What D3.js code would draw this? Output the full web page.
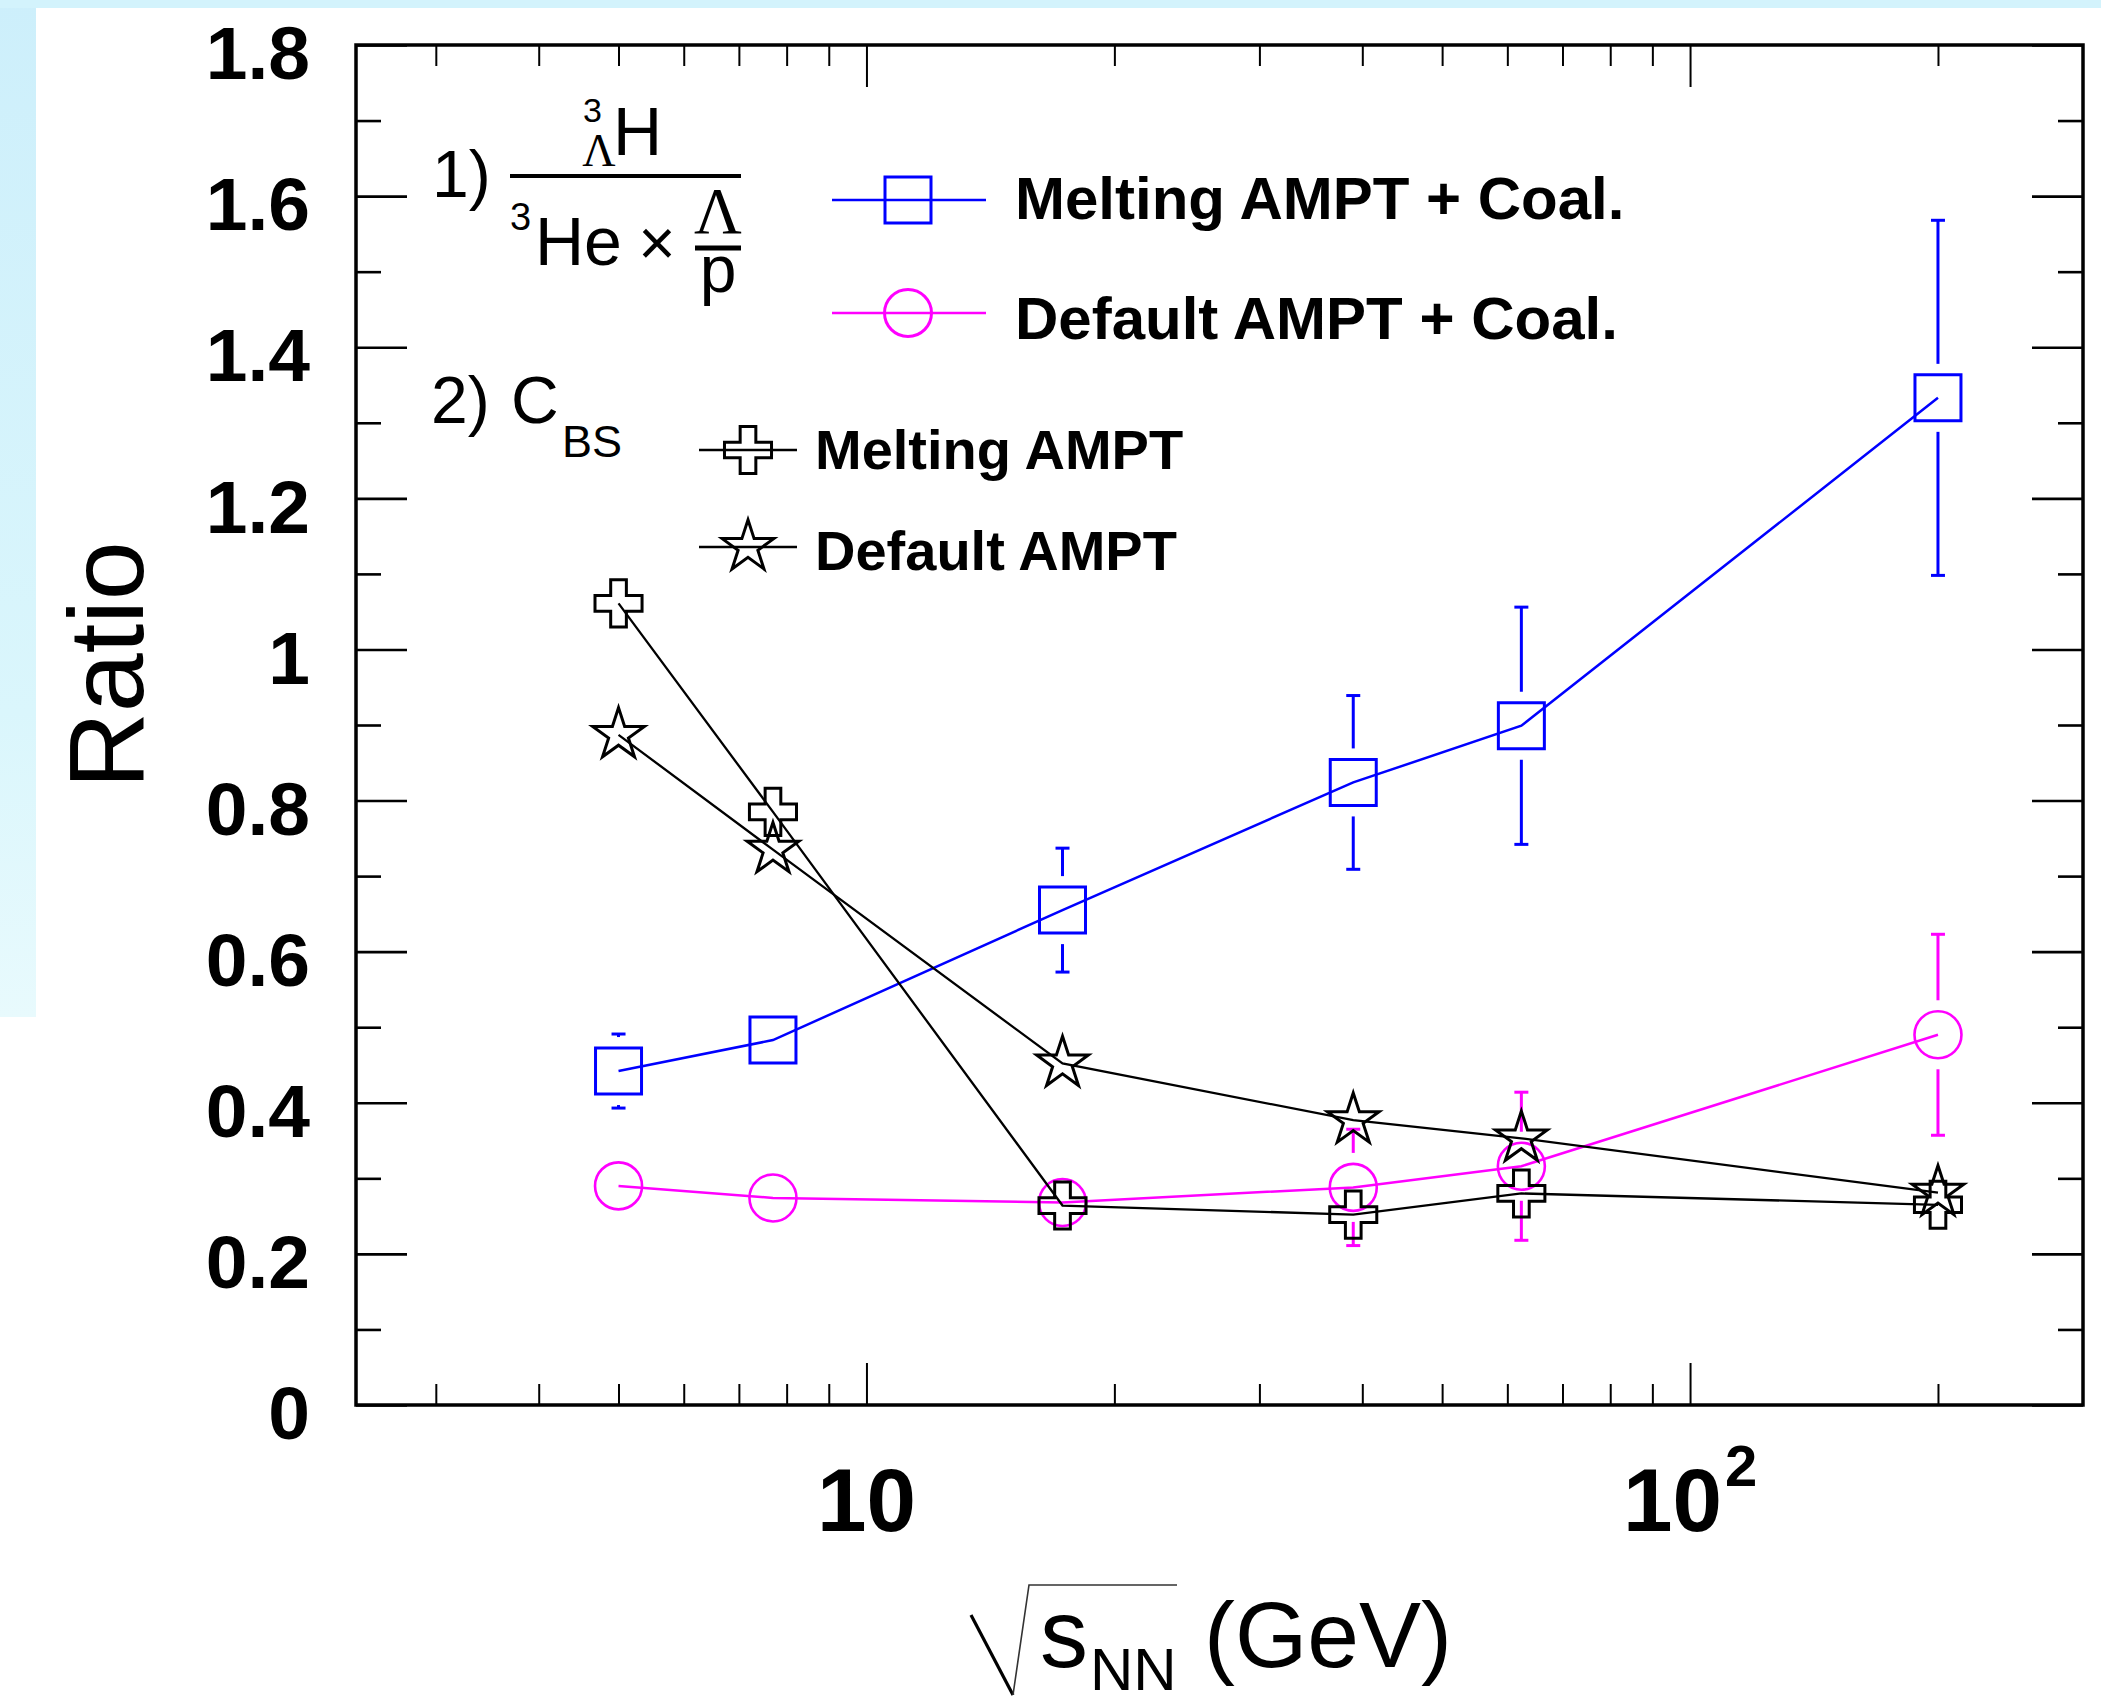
<!DOCTYPE html>
<html><head><meta charset="utf-8">
<script src="https://cdn.jsdelivr.net/npm/d3@7"></script>
<style>body{margin:0;background:#fff} svg{display:block}</style>
</head><body>
<svg id="c" width="2101" height="1697"></svg>
<script>
// ---- data ----
const energies = [5, 7.7, 17.3, 39, 62.4, 200];
const meltCoal    = [0.442, 0.483, 0.655, 0.824, 0.899, 1.333];
const meltCoalErr = [0.049, 0.030, 0.082, 0.115, 0.157, 0.235];
const defCoal     = [0.290, 0.274, 0.268, 0.288, 0.316, 0.490];
const defCoalErr  = [0.020, 0.020, 0.025, 0.077, 0.098, 0.133];
const meltCbs     = [1.061, 0.785, 0.264, 0.252, 0.280, 0.265];
const defCbs      = [0.887, 0.735, 0.452, 0.377, 0.353, 0.281];
const yMajor = [0, 0.2, 0.4, 0.6, 0.8, 1.0, 1.2, 1.4, 1.6, 1.8];
const yMajorLabels = ["0", "0.2", "0.4", "0.6", "0.8", "1", "1.2", "1.4", "1.6", "1.8"];
const yMinor = [0.1, 0.3, 0.5, 0.7, 0.9, 1.1, 1.3, 1.5, 1.7];
const xMajor = [10, 100];
const xMajorBase = ["10", "10"];
const xMajorExp = ["", "2"];
const xMinor = [3, 4, 5, 6, 7, 8, 9, 20, 30, 40, 50, 60, 70, 80, 90, 200];
const legendCoal = ["Melting AMPT + Coal.", "Default AMPT + Coal."];
const legendCbs = ["Melting AMPT", "Default AMPT"];

const W = 2101, H = 1697;
const L = 356, R = 2083, T = 45, B = 1405;
const FONT = "'Liberation Sans', Arial, Helvetica, sans-serif";
const SERIF = "'Liberation Serif', 'Times New Roman', serif";

const svg = d3.select("#c");
const x = d3.scaleLog().domain([2.4, 300]).range([L, R]);
const y = d3.scaleLinear().domain([0, 1.8]).range([B, T]);

// ---- background ----
const defs = svg.append("defs");
const g1 = defs.append("linearGradient").attr("id", "lb").attr("x1", 0).attr("y1", 0).attr("x2", 0).attr("y2", 1);
g1.append("stop").attr("offset", "0%").attr("stop-color", "#cdeffb");
g1.append("stop").attr("offset", "70%").attr("stop-color", "#daf6fc");
g1.append("stop").attr("offset", "100%").attr("stop-color", "#e8fafd");
svg.append("rect").attr("width", W).attr("height", H).attr("fill", "#fff");
svg.append("rect").attr("x", 0).attr("y", 0).attr("width", 36).attr("height", 1017).attr("fill", "url(#lb)");
svg.append("rect").attr("x", 0).attr("y", 0).attr("width", W).attr("height", 8).attr("fill", "#d3f3fc");

// ---- axes ----
function styleAxis(g, w) {
  g.select(".domain").remove();
  g.selectAll(".tick line").attr("stroke", "#000").attr("stroke-width", w);
}
svg.append("g").attr("transform", `translate(${L},0)`)
  .call(d3.axisLeft(y).tickValues(yMajor).tickSize(-51).tickPadding(46)
    .tickFormat((d, i) => yMajorLabels[i]))
  .call(g => {
    styleAxis(g, 2.6);
    g.selectAll("text").attr("font-family", FONT).attr("font-weight", "bold")
      .attr("font-size", 75).attr("fill", "#000").attr("dy", "0.45em");
  });
svg.append("g").attr("transform", `translate(${L},0)`)
  .call(d3.axisLeft(y).tickValues(yMinor).tickSize(-25).tickFormat(""))
  .call(g => styleAxis(g, 2.6));
svg.append("g").attr("transform", `translate(${R},0)`)
  .call(d3.axisRight(y).tickValues(yMajor).tickSize(-51).tickFormat(""))
  .call(g => styleAxis(g, 2.6));
svg.append("g").attr("transform", `translate(${R},0)`)
  .call(d3.axisRight(y).tickValues(yMinor).tickSize(-25).tickFormat(""))
  .call(g => styleAxis(g, 2.6));
svg.append("g").attr("transform", `translate(0,${B})`)
  .call(d3.axisBottom(x).tickValues(xMajor).tickSize(-42).tickFormat(""))
  .call(g => styleAxis(g, 2));
svg.append("g").attr("transform", `translate(0,${B})`)
  .call(d3.axisBottom(x).tickValues(xMinor).tickSize(-21).tickFormat(""))
  .call(g => styleAxis(g, 2));
svg.append("g").attr("transform", `translate(0,${T})`)
  .call(d3.axisTop(x).tickValues(xMajor).tickSize(-42).tickFormat(""))
  .call(g => styleAxis(g, 2));
svg.append("g").attr("transform", `translate(0,${T})`)
  .call(d3.axisTop(x).tickValues(xMinor).tickSize(-21).tickFormat(""))
  .call(g => styleAxis(g, 2));

// x tick labels (10, 10^2)
const xl = svg.append("g").attr("font-family", FONT).attr("font-weight", "bold").attr("fill", "#000");
xMajor.forEach((v, i) => {
  const t = xl.append("text").attr("x", x(v)).attr("y", 1531).attr("text-anchor", "middle").attr("font-size", 89);
  t.append("tspan").text(xMajorBase[i]);
  if (xMajorExp[i]) t.append("tspan").attr("font-size", 58).attr("dy", -45).attr("dx", 3).text(xMajorExp[i]);
});

// frame
svg.append("rect").attr("x", L).attr("y", T).attr("width", R - L).attr("height", B - T)
  .attr("fill", "none").attr("stroke", "#000").attr("stroke-width", 3.5);

// ---- axis titles ----
svg.append("text").attr("transform", `translate(143,665) rotate(-90)`)
  .attr("text-anchor", "middle").attr("font-family", FONT).attr("font-size", 106).attr("fill", "#000").text("Ratio");

const xt = svg.append("g").attr("fill", "#000").attr("font-family", FONT);
xt.append("path").attr("d", "M971,1615 L1013,1695").attr("stroke", "#000").attr("stroke-width", 3.2).attr("fill", "none");
xt.append("path").attr("d", "M1013,1695 L1029,1585 L1177,1585").attr("stroke", "#333").attr("stroke-width", 1.6).attr("fill", "none");
xt.append("text").attr("x", 1040).attr("y", 1667).attr("font-size", 96).text("s");
xt.append("text").attr("x", 1090).attr("y", 1690).attr("font-size", 60).text("NN");
xt.append("text").attr("x", 1204).attr("y", 1667).attr("font-size", 93).text("(GeV)");

// ---- series ----
const line = d3.line().x(d => x(d[0])).y(d => y(d[1]));
const SQ = 46, CR = 23.5;
const symSquare = d3.symbol().type(d3.symbolSquare).size(SQ * SQ);
const symCircle = d3.symbol().type(d3.symbolCircle).size(Math.PI * CR * CR);
const symCross = d3.symbol().type(d3.symbolCross).size(1230);
const symStar = d3.symbol().type(d3.symbolStar).size(830);

function series(vals, errs, color, sym, half, lw, mw) {
  const pts = energies.map((e, i) => [e, vals[i]]);
  const g = svg.append("g");
  g.append("path").attr("d", line(pts)).attr("fill", "none").attr("stroke", color).attr("stroke-width", lw);
  if (errs) {
    const gap = half + 11;
    energies.forEach((e, i) => {
      const cx = x(e), cy = y(vals[i]);
      const yt = y(vals[i] + errs[i]), yb = y(vals[i] - errs[i]);
      if (cy - yt > gap) {
        g.append("line").attr("x1", cx).attr("x2", cx).attr("y1", cy - gap).attr("y2", yt).attr("stroke", color).attr("stroke-width", 3);
        g.append("line").attr("x1", cx - 7).attr("x2", cx + 7).attr("y1", yt).attr("y2", yt).attr("stroke", color).attr("stroke-width", 3);
        g.append("line").attr("x1", cx).attr("x2", cx).attr("y1", cy + gap).attr("y2", yb).attr("stroke", color).attr("stroke-width", 3);
        g.append("line").attr("x1", cx - 7).attr("x2", cx + 7).attr("y1", yb).attr("y2", yb).attr("stroke", color).attr("stroke-width", 3);
      }
    });
  }
  g.selectAll("path.m").data(pts).join("path").attr("class", "m")
    .attr("transform", d => `translate(${x(d[0])},${y(d[1])})`)
    .attr("d", sym).attr("fill", "none").attr("stroke", color).attr("stroke-width", mw);
}
series(meltCoal, meltCoalErr, "#0000ff", symSquare, SQ / 2, 2.5, 3);
series(defCoal, defCoalErr, "#ff00ff", symCircle, CR, 2.5, 2.6);
series(meltCbs, null, "#000", symCross, 23, 2.3, 3);
series(defCbs, null, "#000", symStar, 25, 2.3, 3);

// ---- legends ----
const lg = svg.append("g");
const coalEntries = [{c: "#0000ff", s: symSquare, y: 200}, {c: "#ff00ff", s: symCircle, y: 313}];
coalEntries.forEach((e, i) => {
  lg.append("line").attr("x1", 832).attr("x2", 986).attr("y1", e.y).attr("y2", e.y).attr("stroke", e.c).attr("stroke-width", 2.5);
  lg.append("path").attr("transform", `translate(908,${e.y})`).attr("d", e.s).attr("fill", "none").attr("stroke", e.c).attr("stroke-width", 3);
  lg.append("text").attr("x", 1015).attr("y", e.y + 19 + (i ? 7 : 0)).attr("font-family", FONT).attr("font-weight", "bold")
    .attr("font-size", 60).attr("fill", "#000").text(legendCoal[i]);
});
const cbsEntries = [{s: symCross, y: 450}, {s: symStar, y: 547}];
cbsEntries.forEach((e, i) => {
  lg.append("line").attr("x1", 699).attr("x2", 797).attr("y1", e.y).attr("y2", e.y).attr("stroke", "#000").attr("stroke-width", 2.5);
  lg.append("path").attr("transform", `translate(748,${e.y})`).attr("d", e.s).attr("fill", "none").attr("stroke", "#000").attr("stroke-width", 3);
  lg.append("text").attr("x", 815).attr("y", e.y + 19 + (i ? 4 : 0)).attr("font-family", FONT).attr("font-weight", "bold")
    .attr("font-size", 56).attr("fill", "#000").text(legendCbs[i]);
});

// ---- annotation ----
const an = svg.append("g").attr("font-family", FONT).attr("fill", "#000");
an.append("text").attr("x", 432).attr("y", 197).attr("font-size", 66).text("1)");
an.append("text").attr("x", 583).attr("y", 122).attr("font-size", 34).text("3");
an.append("text").attr("x", 599).attr("y", 166).attr("font-size", 46).attr("font-family", SERIF).attr("text-anchor", "middle").text("Λ");
an.append("text").attr("x", 613).attr("y", 155).attr("font-size", 68).text("H");
an.append("line").attr("x1", 510).attr("x2", 741).attr("y1", 176).attr("y2", 176).attr("stroke", "#000").attr("stroke-width", 4);
an.append("text").attr("x", 510).attr("y", 230).attr("font-size", 38).text("3");
an.append("text").attr("x", 535).attr("y", 265).attr("font-size", 68).text("He");
an.append("text").attr("x", 657).attr("y", 265).attr("font-size", 64).attr("text-anchor", "middle").text("×");
an.append("text").attr("x", 718).attr("y", 233).attr("font-size", 66).attr("font-family", SERIF).attr("text-anchor", "middle").text("Λ");
an.append("line").attr("x1", 695).attr("x2", 741).attr("y1", 248).attr("y2", 248).attr("stroke", "#000").attr("stroke-width", 5);
an.append("text").attr("x", 718).attr("y", 292).attr("font-size", 66).attr("text-anchor", "middle").text("p");
an.append("text").attr("x", 431).attr("y", 423).attr("font-size", 66).text("2)");
an.append("text").attr("x", 511).attr("y", 423).attr("font-size", 66).text("C");
an.append("text").attr("x", 562).attr("y", 457).attr("font-size", 45).text("BS");
</script>
</body></html>
